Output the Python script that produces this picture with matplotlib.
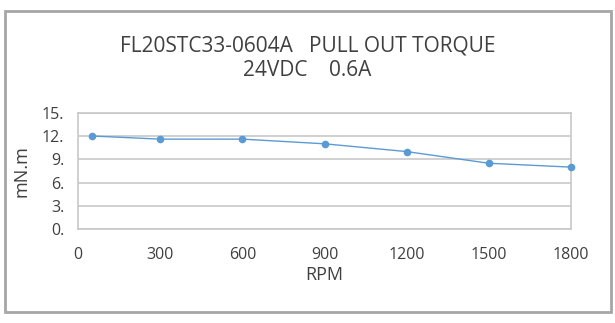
import matplotlib.pyplot as plt
from matplotlib.patches import Rectangle

rpm = [50, 300, 600, 900, 1200, 1500, 1800]
torque = [12.0, 11.6, 11.6, 11.0, 10.0, 8.5, 8.0]
x_ticks = [0, 300, 600, 900, 1200, 1500, 1800]
y_ticks = [0, 3, 6, 9, 12, 15]
y_labels = ["0.", "3.", "6.", "9.", "12.", "15."]
title_lines = ["FL20STC33-0604A   PULL OUT TORQUE", "24VDC    0.6A"]

plt.rcParams["font.family"] = ["Open Sans", "DejaVu Sans"]
TXT = "#404040"
GRID = "#c8c8c8"
BLUE = "#5b9bd5"
W, H = 615, 323

fig = plt.figure(figsize=(W / 100, H / 100), dpi=100)
ax = fig.add_axes([78.3 / W, 1 - 229.3 / H, 492.4 / W, 116.6 / H])

ax.plot(rpm, torque, color=BLUE, lw=1.0, marker="o", ms=5.5,
        markeredgewidth=0, clip_on=False, zorder=3)

ax.set_xlim(0, 1800)
ax.set_ylim(0, 15)
ax.set_xticks(x_ticks)
ax.set_xticklabels([str(v) for v in x_ticks])
ax.set_yticks(y_ticks)
ax.set_yticklabels(y_labels)
ax.tick_params(length=0, labelsize=11.5, labelcolor=TXT)
ax.tick_params(axis="x", pad=13)
ax.tick_params(axis="y", pad=10)
ax.grid(axis="y", color=GRID, lw=1.2)
for s in ax.spines.values():
    s.set_color(GRID)
    s.set_linewidth(1.2)

ax.set_xlabel("RPM", fontsize=13, color=TXT, labelpad=2)
ax.set_ylabel("mN.m", fontsize=13, color=TXT, labelpad=8)

# titre sur deux lignes (lignes de base mesurées)
for line, base in zip(title_lines, [51.7, 75.5]):
    fig.text(0.5, 1 - base / H, line, ha="center", va="baseline",
             fontsize=15, color=TXT)

# cadre extérieur
fig.patches.append(Rectangle((5 / W, 11 / H), 606 / W, 301 / H,
                             transform=fig.transFigure, fill=False,
                             edgecolor="#a6a6a6", lw=2))

fig.savefig("out.png", dpi=100)
